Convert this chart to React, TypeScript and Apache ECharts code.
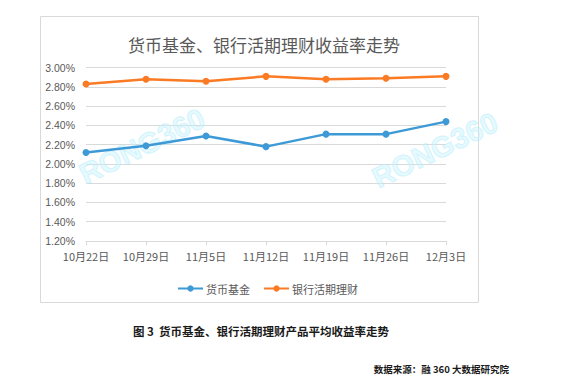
import React, { useEffect, useRef } from "react";
import * as echarts from "echarts";

const categories = ["10月22日", "10月29日", "11月5日", "11月12日", "11月19日", "11月26日", "12月3日"];
const moneyFund = [2.12, 2.19, 2.29, 2.18, 2.31, 2.31, 2.44];
const bankDemand = [2.83, 2.88, 2.86, 2.91, 2.88, 2.89, 2.91];
const seriesNames = ["货币基金", "银行活期理财"];
const titleText = "货币基金、银行活期理财收益率走势";
const captionText = "图 3  货币基金、银行活期理财产品平均收益率走势";
const sourceText = "数据来源：融 360 大数据研究院";
const watermark = "RONG360";

const CJK = '"Noto Sans CJK SC", "Noto Sans", sans-serif';

export default function App() {
  const ref = useRef<HTMLDivElement>(null);
  useEffect(() => {
    if (!ref.current) return;
    const chart = echarts.init(ref.current, undefined, { renderer: "svg" });
    const blue = "#3d9ad6";
    const orange = "#fb7a24";
    const wm = (x: number, y: number) => ({
      type: "text",
      x,
      y,
      rotation: (26 * Math.PI) / 180,
      style: {
        text: watermark,
        fontFamily: '"Liberation Sans", sans-serif',
        fontSize: 29,
        fontWeight: "bold",
        fill: "rgba(200,243,253,0.45)",
        stroke: "rgba(175,236,250,0.55)",
        lineWidth: 1,
        align: "center",
        verticalAlign: "middle",
      },
      z: 1,
    });
    chart.setOption({
      animation: false,
      backgroundColor: "#ffffff",
      title: {
        text: titleText,
        left: 259,
        textAlign: "center",
        top: 31,
        textStyle: { fontFamily: CJK, fontSize: 17, fontWeight: "normal", color: "#595959" },
      },
      legend: {
        left: 172,
        top: 278,
        itemWidth: 25,
        itemHeight: 8,
        itemGap: 13,
        data: seriesNames,
        textStyle: { fontFamily: CJK, fontSize: 11, color: "#595959", padding: [0, 0, 0, -2] },
      },
      grid: { left: 86, right: 126, top: 67.7, bottom: 148, containLabel: false },
      xAxis: {
        type: "category",
        data: categories,
        boundaryGap: false,
        axisLine: { lineStyle: { color: "#d9d9d9", width: 1 } },
        axisTick: { show: true, length: 4, interval: 0, lineStyle: { color: "#d9d9d9" } },
        axisLabel: { fontFamily: CJK, fontSize: 11, color: "#595959", margin: 9, interval: 0 },
        splitLine: { show: false },
      },
      yAxis: {
        type: "value",
        min: 1.2,
        max: 3.0,
        interval: 0.2,
        axisLine: { show: false },
        axisTick: { show: false },
        axisLabel: {
          fontFamily: '"Liberation Sans", sans-serif',
          fontSize: 10.5,
          color: "#595959",
          margin: 11,
          formatter: (v: number) => v.toFixed(2) + "%",
        },
        splitLine: { lineStyle: { color: "#d9d9d9", width: 1 } },
      },
      series: [
        {
          name: seriesNames[0],
          type: "line",
          data: moneyFund,
          color: blue,
          symbol: "circle",
          symbolSize: 7,
          lineStyle: { width: 2.5, color: blue },
          itemStyle: { color: blue },
          z: 3,
        },
        {
          name: seriesNames[1],
          type: "line",
          data: bankDemand,
          color: orange,
          symbol: "circle",
          symbolSize: 7,
          lineStyle: { width: 2.5, color: orange },
          itemStyle: { color: orange },
          z: 3,
        },
      ],
      graphic: [
        {
          type: "rect",
          shape: { x: 40.5, y: 16.5, width: 438, height: 286 },
          style: { fill: "none", stroke: "#d9d9d9", lineWidth: 1 },
          z: 0,
        },
        wm(142, 146),
        wm(435, 150),
        {
          type: "text",
          x: 261,
          y: 331,
          style: {
            text: captionText,
            fontFamily: CJK,
            fontSize: 11.5,
            fontWeight: "bold",
            fill: "#1a1a1a",
            align: "center",
            verticalAlign: "middle",
          },
        },
        {
          type: "text",
          x: 509,
          y: 369,
          style: {
            text: sourceText,
            fontFamily: CJK,
            fontSize: 9.5,
            fontWeight: "bold",
            fill: "#1a1a1a",
            align: "right",
            verticalAlign: "middle",
          },
        },
      ],
    });
    return () => chart.dispose();
  }, []);
  return (
    <div
      ref={ref}
      style={{ position: "absolute", left: 0, top: 0, width: 572, height: 389 }}
    />
  );
}
